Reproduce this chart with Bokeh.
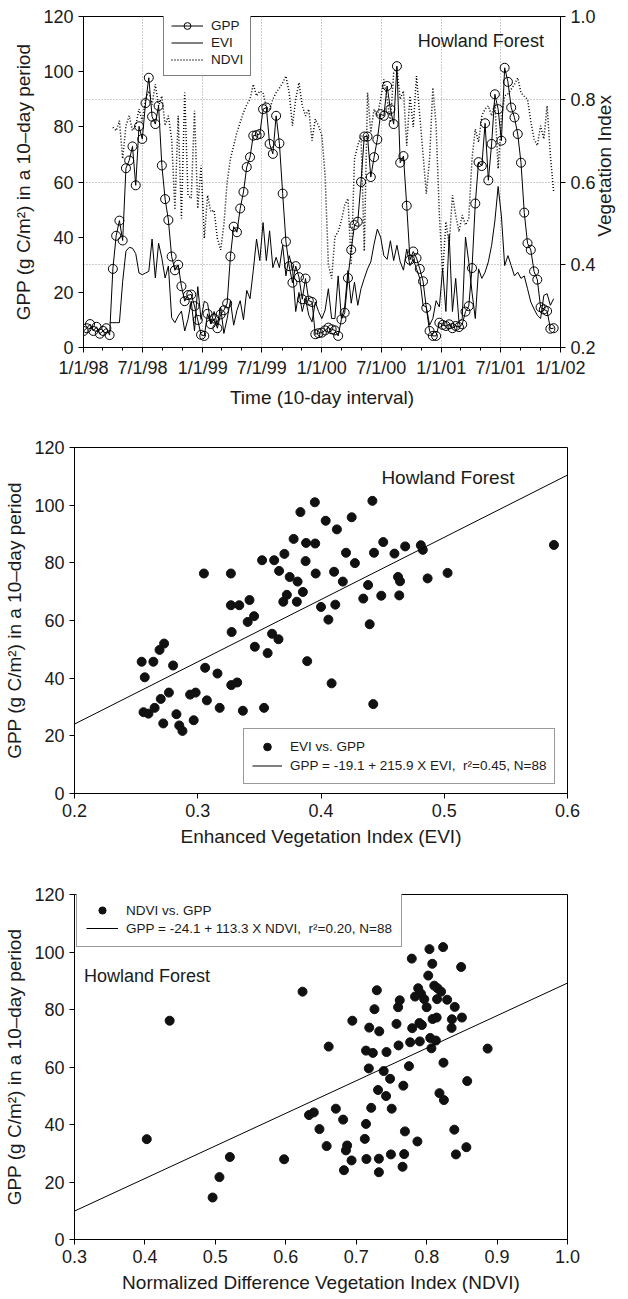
from datetime import datetime
from bokeh.plotting import figure
from bokeh.models import (Range1d, LinearAxis, FixedTicker, Grid, Legend, LegendItem,
                          Label, PrintfTickFormatter)
from bokeh.embed import file_html
from bokeh.resources import INLINE
import math

FONT = "Liberation Sans"

# ---------------- Panel 1 data: 10-day series, Howland Forest ----------------
start_date = datetime(1998, 1, 1)
end_date = datetime(2002, 1, 1)
step_days = 10

gpp_10day = [6.0, 7.0, 8.5, 6.0, 7.5, 5.0, 6.0, 7.0, 4.5,
             28.5, 40.5, 46.0, 38.8, 65.0, 67.8, 72.9, 58.8, 80.2, 75.6, 88.6, 97.8, 83.7, 81.0, 87.6,
             66.0, 53.8, 46.2, 33.0, 28.0, 30.0, 22.2, 16.8, 19.0, 19.2, 15.0, 10.0, 4.6, 4.2,
             12.2, 8.5, 10.5, 7.0, 12.0, 13.5, 16.0, 33.0, 43.8, 41.8, 50.4, 56.4, 65.4, 69.0, 76.8,
             77.0, 77.4, 86.4, 87.0, 73.8, 70.2, 84.0, 74.0, 55.8, 38.4, 29.5, 23.5, 29.5, 25.5, 17.5,
             25.0, 17.0, 16.5, 4.8, 5.2,
             5.4, 6.2, 7.2, 6.6, 6.2, 4.2, 10.2, 12.6, 25.2, 35.4, 44.4, 45.6, 60.0, 76.5, 76.5, 61.8,
             69.0, 75.4, 84.6, 84.0, 94.8, 86.4, 81.0, 102.0, 67.0, 69.4, 51.4, 31.8, 34.8, 32.4, 28.5,
             24.0, 14.4, 6.0, 4.2, 4.2, 9.0,
             8.2, 7.8, 8.4, 7.0, 7.8, 7.4, 8.4, 13.0, 15.0, 28.8, 52.2, 67.2, 65.8, 81.3, 60.6, 73.8,
             91.8, 86.4, 75.0, 101.4, 96.3, 87.0, 83.4, 77.4, 67.0, 48.9, 37.8, 35.4, 27.6, 24.6, 14.6,
             13.8, 13.2, 6.8, 7.0]

evi_first_step = 8
evi_10day = [0.260, 0.260, 0.260, 0.260, 0.360, 0.433, 0.442, 0.440, 0.427, 0.380,
             0.376, 0.380, 0.384, 0.462, 0.368, 0.452, 0.416, 0.368, 0.397, 0.272,
             0.260, 0.276, 0.288, 0.240, 0.268, 0.312, 0.240, 0.347, 0.268, 0.312,
             0.307, 0.258, 0.287, 0.254, 0.298, 0.234, 0.270, 0.313, 0.254, 0.290,
             0.313, 0.267, 0.338, 0.318, 0.386, 0.462, 0.410, 0.502, 0.410, 0.482,
             0.393, 0.418, 0.393, 0.447, 0.373, 0.422, 0.393, 0.287, 0.333, 0.287,
             0.318, 0.278, 0.262, 0.310, 0.287, 0.270, 0.290, 0.342, 0.270, 0.270,
             0.373, 0.270, 0.298, 0.386, 0.307, 0.358, 0.302, 0.342, 0.367, 0.390,
             0.407, 0.450, 0.486, 0.467, 0.422, 0.413, 0.458, 0.410, 0.447, 0.407,
             0.387, 0.438, 0.398, 0.413, 0.390, 0.367, 0.302, 0.298, 0.254, 0.270,
             0.313, 0.298, 0.390, 0.287, 0.473, 0.287, 0.367, 0.262, 0.270, 0.467,
             0.407, 0.333, 0.270, 0.390, 0.367, 0.382, 0.407, 0.447, 0.506, 0.589,
             0.518, 0.398, 0.422, 0.398, 0.373, 0.382, 0.367, 0.373, 0.342, 0.310,
             0.293, 0.278, 0.270, 0.326, 0.330, 0.302, 0.318]

ndvi_first_step = 9
ndvi_10day = [0.732, 0.724, 0.748, 0.656, 0.736, 0.760, 0.724, 0.736, 0.776, 0.747,
              0.800, 0.820, 0.787, 0.836, 0.784, 0.808, 0.736, 0.760, 0.704, 0.533,
              0.760, 0.512, 0.816, 0.568, 0.560, 0.772, 0.536, 0.640, 0.464, 0.568,
              0.528, 0.532, 0.464, 0.436, 0.496, 0.600, 0.656, 0.688, 0.720, 0.744,
              0.768, 0.787, 0.800, 0.836, 0.808, 0.820, 0.816, 0.780, 0.776, 0.800,
              0.816, 0.827, 0.840, 0.856, 0.816, 0.736, 0.800, 0.840, 0.784, 0.760,
              0.776, 0.700, 0.752, 0.736, 0.712, 0.616, 0.400, 0.367, 0.467, 0.480,
              0.507, 0.544, 0.560, 0.400, 0.656, 0.688, 0.712, 0.433, 0.816, 0.720,
              0.776, 0.760, 0.800, 0.848, 0.800, 0.744, 0.864, 0.876, 0.800, 0.820,
              0.688, 0.808, 0.733, 0.856, 0.760, 0.667, 0.572, 0.656, 0.828, 0.736,
              0.520, 0.380, 0.504, 0.448, 0.568, 0.520, 0.480, 0.520, 0.496, 0.512,
              0.656, 0.728, 0.696, 0.760, 0.776, 0.784, 0.760, 0.792, 0.632, 0.752,
              0.808, 0.813, 0.824, 0.836, 0.852, 0.816, 0.807, 0.800, 0.747, 0.704,
              0.688, 0.736, 0.704, 0.784, 0.664, 0.576]

time_tick_labels = ["1/1/98", "7/1/98", "1/1/99", "7/1/99", "1/1/00",
                    "7/1/00", "1/1/01", "7/1/01", "1/1/02"]
gpp_ticks = [0, 20, 40, 60, 80, 100, 120]
vi_ticks = [0.2, 0.4, 0.6, 0.8, 1.0]

# ---------------- Panel 2 data: EVI vs GPP ----------------
evi_points = [0.2545, 0.257, 0.264, 0.269, 0.2727, 0.280, 0.256, 0.260, 0.265, 0.270,
              0.2766, 0.272, 0.2827, 0.285, 0.2876, 0.2938, 0.2983, 0.2967, 0.305, 0.306,
              0.3074, 0.316, 0.3178, 0.3269, 0.3269, 0.3337, 0.3275, 0.3272, 0.332, 0.3366,
              0.342, 0.3405, 0.3457, 0.3463, 0.3538, 0.3522, 0.362, 0.3567, 0.3603, 0.3655,
              0.366, 0.3703, 0.3694, 0.3723, 0.3746, 0.3778, 0.381, 0.3804, 0.3833, 0.3853,
              0.3879, 0.3875, 0.3888, 0.395, 0.3953, 0.3957, 0.400, 0.4038, 0.406, 0.4086,
              0.4106, 0.4116, 0.4129, 0.4177, 0.4203, 0.4249, 0.4275, 0.4343, 0.4382, 0.4395,
              0.4417, 0.443, 0.4424, 0.4489, 0.4505, 0.4596, 0.4625, 0.4641, 0.4635, 0.4683,
              0.481, 0.4826, 0.4865, 0.5027, 0.589]
gpp_vs_evi = [45.7, 40.3, 45.7, 49.8, 52.0, 44.4, 28.2, 27.7, 29.7, 32.8,
              35.0, 24.3, 27.5, 23.6, 21.7, 34.3, 35.0, 25.4, 76.3, 43.6,
              32.3, 41.6, 29.7, 76.3, 65.3, 65.3, 56.0, 37.6, 38.5, 28.7,
              67.1, 59.5, 61.5, 50.9, 29.7, 80.9, 80.9, 48.7, 55.4, 53.5,
              77.2, 83.1, 66.5, 68.9, 75.1, 88.3, 73.5, 66.5, 97.6, 69.9,
              86.9, 80.6, 45.9, 101.0, 86.7, 76.3, 64.7, 94.6, 60.3, 38.2,
              76.9, 65.5, 91.6, 73.5, 83.5, 95.8, 79.9, 67.6, 72.3, 58.7,
              101.5, 83.5, 31.0, 68.6, 87.2, 83.2, 75.1, 73.6, 68.7, 85.7,
              86.1, 84.5, 74.6, 76.5, 86.2]
evi_fit_intercept, evi_fit_slope = -19.1, 215.9
evi_ticks = [0.2, 0.3, 0.4, 0.5, 0.6]

# ---------------- Panel 3 data: NDVI vs GPP ----------------
ndvi_points = [0.4026, 0.4351, 0.4961, 0.5058, 0.5206, 0.5976, 0.6238, 0.6330, 0.6398, 0.6478,
               0.658, 0.6609, 0.6711, 0.6814, 0.6826, 0.6854, 0.6871, 0.6934, 0.6945, 0.7122,
               0.7139, 0.7145, 0.7139, 0.7185, 0.7179, 0.7213, 0.7236, 0.7259, 0.7293, 0.731,
               0.7327, 0.7322, 0.7322, 0.739, 0.743, 0.7424, 0.7481, 0.7504, 0.7493, 0.7572,
               0.7595, 0.7618, 0.7601, 0.7669, 0.7658, 0.7681, 0.7692, 0.7749, 0.7766, 0.7795,
               0.7789, 0.7835, 0.7869, 0.788, 0.7897, 0.7903, 0.792, 0.7932, 0.7966, 0.80,
               0.8023, 0.804, 0.8051, 0.8068, 0.808, 0.8085, 0.8108, 0.8131, 0.8142, 0.8148,
               0.8154, 0.8182, 0.8205, 0.8234, 0.8239, 0.8245, 0.8291, 0.8354, 0.8359, 0.8399,
               0.8393, 0.8416, 0.8490, 0.8501, 0.8576, 0.8564, 0.8866]
gpp_vs_ndvi = [34.9, 76.1, 14.6, 21.7, 28.7, 27.9, 86.2, 43.3, 44.2, 38.4,
               32.5, 67.1, 45.5, 41.7, 24.1, 31.0, 32.7, 27.5, 76.1, 35.0,
               40.2, 28.0, 65.7, 73.7, 59.5, 45.8, 64.9, 80.1, 86.7, 52.0,
               72.4, 28.1, 23.4, 58.6, 65.2, 49.9, 55.9, 45.5, 29.6, 75.0,
               80.8, 83.2, 67.5, 53.5, 25.3, 29.7, 37.6, 60.3, 68.6, 73.5,
               97.7, 84.5, 34.1, 87.4, 75.3, 68.9, 85.5, 74.6, 83.6, 80.8,
               91.8, 101.0, 70.1, 66.5, 95.9, 76.7, 88.3, 69.2, 77.2, 83.6,
               87.4, 50.9, 86.2, 101.7, 61.5, 48.5, 83.4, 73.6, 76.6, 80.9,
               38.2, 29.6, 94.8, 77.2, 55.1, 32.1, 66.4]
ndvi_fit_intercept, ndvi_fit_slope = -24.1, 113.3
ndvi_ticks = [0.3, 0.4, 0.5, 0.6, 0.7, 0.8, 0.9, 1.0]

Y_TITLE = "GPP (g C/m\u00b2) in a 10\u2013day period"
INK = "#1a1a1a"


def style_axis(ax, label_size="18px"):
    ax.axis_line_color = "black"
    ax.axis_line_width = 1
    ax.major_tick_line_color = "black"
    ax.major_tick_in = 0
    ax.major_tick_out = 5
    ax.minor_tick_line_color = None
    ax.major_label_text_font = FONT
    ax.major_label_text_font_size = label_size
    ax.major_label_text_color = INK
    ax.major_label_standoff = 5
    ax.axis_label_text_font = FONT
    ax.axis_label_text_font_size = "19px"
    ax.axis_label_text_font_style = "normal"
    ax.axis_label_text_color = INK
    ax.axis_label_standoff = 6


def base_fig(width, height, x_range, y_range, left, right, top, bottom):
    p = figure(width=width, height=height, x_range=x_range, y_range=y_range,
               output_backend="svg", toolbar_location=None,
               min_border_left=left, min_border_right=right,
               min_border_top=top, min_border_bottom=bottom)
    p.outline_line_color = "black"
    p.outline_line_width = 1
    p.background_fill_color = "white"
    p.border_fill_color = "white"
    return p


# ======================= Panel 1 =======================
total_days = (end_date - start_date).days
p1 = base_fig(628, 410, Range1d(0, total_days), Range1d(0, 120), 83, 67, 16, 60)
p1.extra_y_ranges = {"vi": Range1d(0.2, 1.0)}

tick_days = [(datetime.strptime(s, "%m/%d/%y") - start_date).days for s in time_tick_labels]
minor_days = []
for yr in range(1998, 2002):
    for mo in (3, 5, 9, 11):
        minor_days.append((datetime(yr, mo, 1) - start_date).days)

style_axis(p1.xaxis[0])
style_axis(p1.yaxis[0])
p1.xaxis.ticker = FixedTicker(ticks=tick_days, minor_ticks=minor_days)
p1.xaxis.major_label_overrides = {d: s for d, s in zip(tick_days, time_tick_labels)}
p1.xaxis.minor_tick_line_color = "black"
p1.xaxis.minor_tick_in = 0
p1.xaxis.minor_tick_out = 3
p1.xaxis.axis_label = "Time (10-day interval)"
p1.yaxis.ticker = FixedTicker(ticks=gpp_ticks)
p1.yaxis.axis_label = Y_TITLE

ax_r = LinearAxis(y_range_name="vi", ticker=FixedTicker(ticks=vi_ticks),
                  formatter=PrintfTickFormatter(format="%.1f"))
style_axis(ax_r)
# bottom-to-top reading like the left title
ax_r.axis_label_orientation = math.pi / 2
vi_title = "Vegetation Index"
if "axis_label_align" in ax_r.properties():
    # anchor at the bottom of the axis, lifted by non-breaking spaces so that the
    # visible words sit around the middle of the axis
    ax_r.axis_label_align = "start"
    vi_title = "\u00a0" * 21 + vi_title
ax_r.axis_label = vi_title
p1.add_layout(ax_r, "right")

p1.xgrid.ticker = FixedTicker(ticks=tick_days[1:-1])
p1.xgrid.grid_line_color = "#9a9a9a"
p1.xgrid.grid_line_dash = "1 2"
p1.xgrid.grid_line_width = 1
p1.ygrid.visible = False
vi_grid = Grid(dimension=1, ticker=FixedTicker(ticks=vi_ticks[1:-1]), y_range_name="vi",
               grid_line_color="#9a9a9a", grid_line_dash="1 2", grid_line_width=1)
p1.add_layout(vi_grid)

gpp_x = [i * step_days for i in range(len(gpp_10day))]
evi_x = [(evi_first_step + i) * step_days for i in range(len(evi_10day))]
ndvi_x = [(ndvi_first_step + i) * step_days for i in range(len(ndvi_10day))]

r_ndvi = p1.line(ndvi_x, ndvi_10day, y_range_name="vi", line_color="black",
                 line_width=1.5, line_dash="1 2")
r_evi = p1.line(evi_x, evi_10day, y_range_name="vi", line_color="black", line_width=1)
r_gpp_line = p1.line(gpp_x, gpp_10day, line_color="black", line_width=1)
r_gpp_pts = p1.scatter(gpp_x, gpp_10day, marker="circle", size=9, fill_color=None,
                       line_color="black", line_width=1)

leg1 = Legend(items=[LegendItem(label="GPP", renderers=[r_gpp_line, r_gpp_pts]),
                     LegendItem(label="EVI", renderers=[r_evi]),
                     LegendItem(label="NDVI", renderers=[r_ndvi])],
              location=(80, 271), orientation="vertical",
              label_text_font=FONT, label_text_font_size="13.5px", label_text_color=INK,
              glyph_width=32, glyph_height=17, label_height=17, label_standoff=8,
              spacing=0, padding=7, margin=0,
              border_line_color="black", border_line_width=1,
              background_fill_color="white", background_fill_alpha=1)
p1.add_layout(leg1, "center")
p1.add_layout(Label(x=1024, y=111, text="Howland Forest", text_font=FONT,
                    text_font_size="18px", text_color=INK, text_baseline="middle"))

# ======================= Panel 2 =======================
p2 = base_fig(628, 450, Range1d(evi_ticks[0], evi_ticks[-1]), Range1d(0, 120), 74, 61, 37, 67)
style_axis(p2.xaxis[0])
style_axis(p2.yaxis[0])
p2.grid.visible = False
p2.xaxis.ticker = FixedTicker(ticks=evi_ticks)
p2.xaxis.formatter = PrintfTickFormatter(format="%.1f")
p2.yaxis.ticker = FixedTicker(ticks=gpp_ticks)
p2.xaxis.axis_label = "Enhanced Vegetation Index (EVI)"
p2.yaxis.axis_label = Y_TITLE

r2_pts = p2.scatter(evi_points, gpp_vs_evi, marker="circle", size=9,
                    fill_color="#111111", line_color="#111111")
fx2 = [p2.x_range.start, p2.x_range.end]
r2_fit = p2.line(fx2, [evi_fit_intercept + evi_fit_slope * v for v in fx2],
                 line_color="black", line_width=1)
leg2 = Legend(items=[LegendItem(label="EVI vs. GPP", renderers=[r2_pts]),
                     LegendItem(label="GPP = -19.1 + 215.9 X EVI,  r\u00b2=0.45, N=88",
                                renderers=[r2_fit])],
              location=(169, 9), orientation="vertical",
              label_text_font=FONT, label_text_font_size="13.5px", label_text_color=INK,
              glyph_width=30, glyph_height=19, label_height=19, label_standoff=8,
              spacing=0, padding=8, margin=0,
              border_line_color="#333333", border_line_width=1,
              background_fill_color="white", background_fill_alpha=1)
p2.add_layout(leg2, "center")
p2.add_layout(Label(x=0.449, y=109.6, text="Howland Forest", text_font=FONT,
                    text_font_size="19px", text_color=INK, text_baseline="middle"))

# ======================= Panel 3 =======================
p3 = base_fig(628, 439, Range1d(ndvi_ticks[0], ndvi_ticks[-1]), Range1d(0, 120), 74, 61, 34, 60)
style_axis(p3.xaxis[0])
style_axis(p3.yaxis[0])
p3.grid.visible = False
p3.xaxis.ticker = FixedTicker(ticks=ndvi_ticks)
p3.xaxis.formatter = PrintfTickFormatter(format="%.1f")
p3.yaxis.ticker = FixedTicker(ticks=gpp_ticks)
p3.xaxis.axis_label = "Normalized Difference Vegetation Index (NDVI)"
p3.yaxis.axis_label = Y_TITLE

r3_pts = p3.scatter(ndvi_points, gpp_vs_ndvi, marker="circle", size=9,
                    fill_color="#111111", line_color="#111111")
fx3 = [p3.x_range.start, p3.x_range.end]
r3_fit = p3.line(fx3, [ndvi_fit_intercept + ndvi_fit_slope * v for v in fx3],
                 line_color="black", line_width=1)
leg3 = Legend(items=[LegendItem(label="NDVI vs. GPP", renderers=[r3_pts]),
                     LegendItem(label="GPP = -24.1 + 113.3 X NDVI,  r\u00b2=0.20, N=88",
                                renderers=[r3_fit])],
              location=(2, 292), orientation="vertical",
              label_text_font=FONT, label_text_font_size="13.5px", label_text_color=INK,
              glyph_width=32, glyph_height=18, label_height=18, label_standoff=8,
              spacing=0, padding=9, margin=0,
              border_line_color="#333333", border_line_width=1,
              background_fill_color="white", background_fill_alpha=1)
p3.add_layout(leg3, "center")
p3.add_layout(Label(x=0.3135, y=91.8, text="Howland Forest", text_font=FONT,
                    text_font_size="18px", text_color=INK, text_baseline="middle"))

# three independent roots so that Bokeh does not align their frames
open("out.html", "w").write(file_html([p1, p2, p3], INLINE))
